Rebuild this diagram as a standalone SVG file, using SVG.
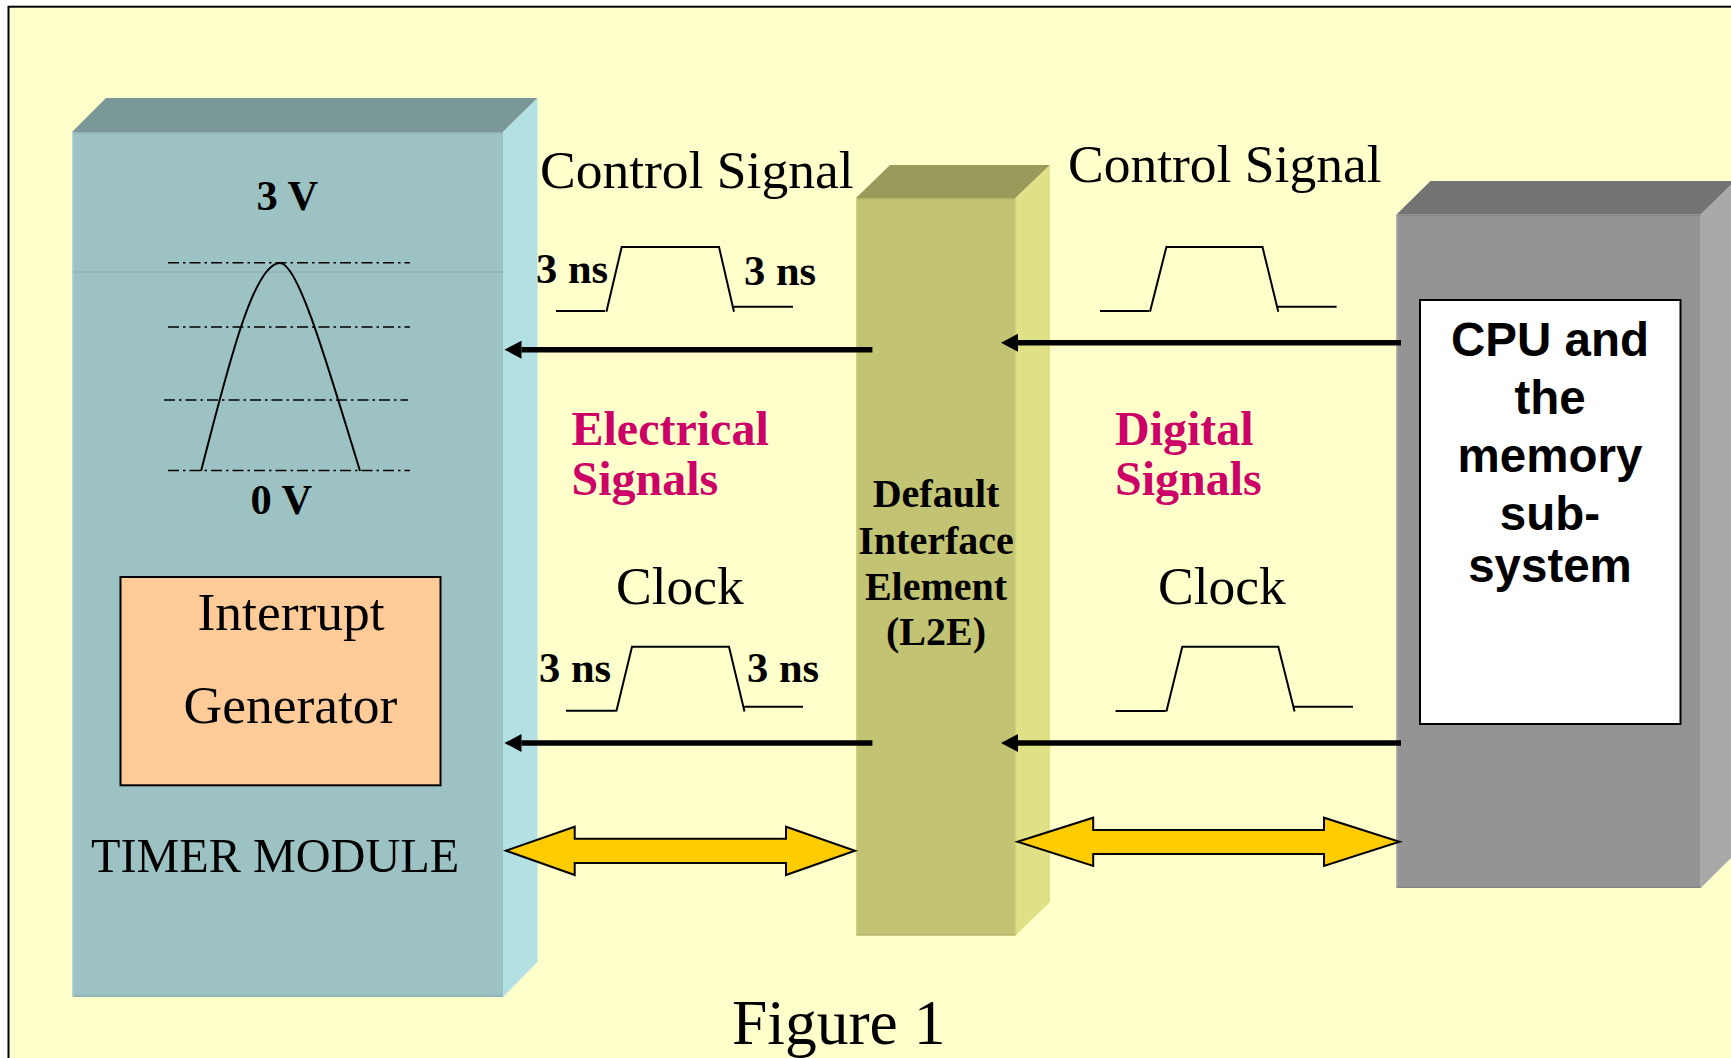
<svg xmlns="http://www.w3.org/2000/svg" width="1731" height="1058" viewBox="0 0 1731 1058">
<style>
text{font-family:"Liberation Serif","Times New Roman",serif;fill:#000}
.sans{font-family:"Liberation Sans",Arial,sans-serif;font-weight:bold;font-size:47.5px;text-anchor:middle}
.sig{font-size:53.5px}
.ns{font-size:42.5px;font-weight:bold}
.volt{font-size:42.5px;font-weight:bold}
.mag{font-size:48px;font-weight:bold;fill:#CC0066}
.mid{font-size:40px;font-weight:bold;text-anchor:middle}
.dash{fill:none;stroke:#000;stroke-width:1.5;stroke-dasharray:11 4 2.5 4}
.wave{fill:none;stroke:#000;stroke-width:2}
.bar{fill:none;stroke:#000;stroke-width:5.5;marker-end:url(#head)}
.dbl{fill:#FFCC00;stroke:#000;stroke-width:2;stroke-linejoin:miter}
.edge{fill:none;stroke-width:1.5}
</style>
<defs>
<marker id="head" markerUnits="userSpaceOnUse" markerWidth="18" markerHeight="20" refX="0" refY="10" orient="auto">
<path d="M0 1L17 10L0 19Z" fill="#000"/>
</marker>
</defs>
<rect id="background" x="8.5" y="6.7" width="1730" height="1060" fill="#FFFFCC" stroke="#000" stroke-width="2"/>
<g id="timer-module">
<polygon points="72,132 106,98 537.5,98 503,132" fill="#7A9898"/>
<polygon points="503,132 537.5,98 537.5,962 503,997" fill="#B3E1E3"/>
<rect x="72" y="132" width="431" height="865" fill="#9CC2C3"/>
<path class="edge" stroke="#8FB3B4" d="M72 132.7H503M72 996.3H503M72 272H503"/>
<path class="edge" stroke="#B0D8D8" d="M72.7 132V997"/>
<text class="volt" x="256.5" y="210">3 V</text>
<path class="dash" d="M168 262.7H410M168 327H410M164 400H408M168 470.6H410"/>
<path class="wave" d="M201 471C225 380 252 263 280 263C298 263 326 360 360 471"/>
<text class="volt" x="250.5" y="514">0 V</text>
<text x="91" y="872" font-size="48.2">TIMER MODULE</text>
</g>
<g id="interrupt-generator">
<rect x="120.5" y="577" width="320" height="208.3" fill="#FFCC99" stroke="#000" stroke-width="2"/>
<text class="sig" x="197.5" y="630">Interrupt</text>
<text class="sig" x="183.5" y="722.5">Generator</text>
</g>
<g id="interface-element">
<polygon points="856,198 890,165 1050,165 1015.5,198" fill="#9A9A5A"/>
<polygon points="1015.5,198 1050,165 1050,902 1015.5,935.5" fill="#E0E187"/>
<rect x="856" y="198" width="159.5" height="737.5" fill="#C2C373"/>
<path class="edge" stroke="#B3B468" d="M856 198.7H1015.5M856 934.8H1015.5"/>
<path class="edge" stroke="#D0D17E" d="M856.7 198V935.5M1015.5 198V935.5"/>
<text class="mid" x="936" y="507">Default</text>
<text class="mid" x="936" y="554">Interface</text>
<text class="mid" x="936" y="599.5">Element</text>
<text class="mid" x="936" y="645">(L2E)</text>
</g>
<g id="cpu-memory">
<polygon points="1396.5,214.5 1430.5,181 1735,181 1700.7,214.5" fill="#737373"/>
<polygon points="1700.7,214.5 1735,181 1735,854 1700.7,888" fill="#A9A9A9"/>
<rect x="1396.5" y="214.5" width="304.2" height="673.5" fill="#949494"/>
<path class="edge" stroke="#858585" d="M1396.5 215.2H1700.7M1396.5 887.3H1700.7"/>
<path class="edge" stroke="#A3A3A3" d="M1397.2 214.5V888"/>
<rect x="1420" y="300" width="260.5" height="424" fill="#FFF" stroke="#000" stroke-width="2"/>
<text class="sans" x="1550" y="355.5">CPU and</text>
<text class="sans" x="1550" y="413.5">the</text>
<text class="sans" x="1550" y="471.5">memory</text>
<text class="sans" x="1550" y="529.5">sub-</text>
<text class="sans" x="1550" y="582">system</text>
</g>
<g id="labels">
<text class="sig" x="540" y="188">Control Signal</text>
<text class="sig" x="1068" y="182">Control Signal</text>
<text class="mag" x="571.5" y="444.5">Electrical</text>
<text class="mag" x="571.5" y="495">Signals</text>
<text class="mag" x="1115" y="444.5">Digital</text>
<text class="mag" x="1115" y="495">Signals</text>
<text class="sig" x="616" y="604">Clock</text>
<text class="sig" x="1158" y="604">Clock</text>
<text class="ns" x="536" y="283">3 ns</text>
<text class="ns" x="744" y="285">3 ns</text>
<text class="ns" x="539" y="682">3 ns</text>
<text class="ns" x="747" y="682">3 ns</text>
<text x="732" y="1044" font-size="63.5">Figure 1</text>
</g>
<g id="waveforms">
<path class="wave" d="M556 311H605M606.4 311.7L621.7 247H719L734 311.7M734 306.7H793"/>
<path class="wave" d="M1100 311H1149M1150 311.7L1166.4 247H1262.5L1278.3 311.7M1278 306.7H1336.6"/>
<path class="wave" d="M566 710.7H615.5M616.3 711.5L632 646.7H729L744.5 711.5M744.5 706.7H803"/>
<path class="wave" d="M1115.6 711H1165.5M1166.4 711.5L1182.3 646.7H1278.3L1294.6 711.5M1294 706.7H1353"/>
</g>
<g id="connectors">
<path class="bar" d="M872.4 349.7H521.5"/>
<path class="bar" d="M1401 342.7H1018"/>
<path class="bar" d="M872.4 743H521.5"/>
<path class="bar" d="M1401 743H1018"/>
<polygon class="dbl" points="506,850.7 574.7,826.7 574.7,838.7 786,838.7 786,826.7 855,850.7 786,875 786,863 574.7,863 574.7,875"/>
<polygon class="dbl" points="1017.5,841.7 1093.2,817.7 1093.2,830 1324,830 1324,817.7 1399.5,841.7 1324,866 1324,854 1093.2,854 1093.2,866"/>
</g>
</svg>
